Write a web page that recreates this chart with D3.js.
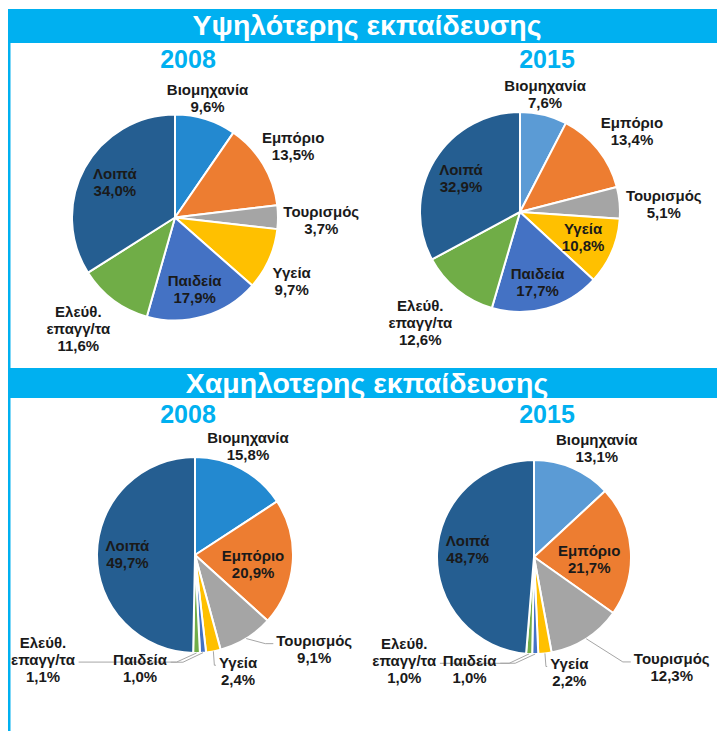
<!DOCTYPE html>
<html>
<head>
<meta charset="utf-8">
<script src="https://cdn.jsdelivr.net/npm/d3@7"></script>
<style>
  body { margin: 0; background: #fff; }
  svg { display: block; font-family: "Liberation Sans", Arial, sans-serif; }
</style>
</head>
<body>
<svg id="chart"></svg>
<script>
// data
const categories = ["Βιομηχανία", "Εμπόριο", "Τουρισμός", "Υγεία", "Παιδεία", "Ελεύθ. επαγγ/τα", "Λοιπά"];
const high2008 = [9.6, 13.5, 3.7, 9.7, 17.9, 11.6, 34.0];
const high2015 = [7.6, 13.4, 5.1, 10.8, 17.7, 12.6, 32.9];
const low2008 = [15.8, 20.9, 9.1, 2.4, 1.0, 1.1, 49.7];
const low2015 = [13.1, 21.7, 12.3, 2.2, 1.0, 1.0, 48.7];
const sectionTitles = ["Υψηλότερης εκπαίδευσης", "Χαμηλοτερης εκπαίδευσης"];
const years = ["2008", "2015"];

const colors2008 = ["#2389d0", "#ed7d31", "#a5a5a5", "#ffc000", "#4472c4", "#70ad47", "#255e91"];
const colors2015 = ["#5b9bd5", "#ed7d31", "#a5a5a5", "#ffc000", "#4472c4", "#70ad47", "#255e91"];
const blue = "#00b0f0";

let w = 717;
let h = 731;

// label placement: [angle shift in degrees from slice middle, distance as share of radius]
const charts = [
    {vals: high2008, col: colors2008, cx: 175, cy: 217.5, r: 103, yx: 188, yy: 68,
     place: [[-2, 1.20], [0, 1.34], [1, 1.42], [4.6, 1.29], [1, 0.72], [4.3, 1.43], [2, 0.68]]},
    {vals: high2015, col: colors2015, cx: 520, cy: 212, r: 100, yx: 547, yy: 68,
     place: [[-1.7, 1.21], [2.8, 1.38], [2.2, 1.44], [-1.4, 0.68], [1.3, 0.72], [3, 1.49], [-1, 0.68]]},
    {vals: low2008, col: colors2008, cx: 195, cy: 555, r: 98, yx: 188, yy: 423,
     place: [[-2.6, 1.24], [4.5, 0.60], [-20.2, 1.55], [-9.6, 1.26], [30.7, 1.28], [56.5, 1.88], [0.5, 0.69]],
     leaders: [2, 3, 4, 5]},
    {vals: low2015, col: colors2015, cx: 534, cy: 557, r: 97, yx: 547, yy: 423,
     place: [[6.3, 1.30], [5.8, 0.57], [-18.7, 1.82], [-10.6, 1.24], [30.7, 1.33], [48.6, 1.71], [4.7, 0.69]],
     leaders: [2, 3, 4, 5]}
];

const fmt = d3.formatLocale({decimal: ",", thousands: ".", grouping: [3], currency: ["", "€"]}).format(".1f");

const svg = d3.select("#chart")
    .attr("width", w)
    .attr("height", h);

// frame + section banners
svg.append("rect")
    .attr("x", 8).attr("y", 9)
    .attr("width", 2.5).attr("height", h - 9)
    .attr("fill", blue);

const banners = [{y: 9, hh: 34, base: 35}, {y: 368, hh: 30, base: 393}];
banners.forEach((b, i) => {
    svg.append("rect")
        .attr("x", 8).attr("y", b.y)
        .attr("width", w - 8).attr("height", b.hh)
        .attr("fill", blue);
    svg.append("text")
        .attr("x", 367).attr("y", b.base)
        .attr("text-anchor", "middle")
        .attr("fill", "#fff")
        .attr("font-size", 28.5)
        .attr("font-weight", "bold")
        .text(sectionTitles[i]);
});

const pie = d3.pie().sort(null).value(d => d);

charts.forEach((c, ci) => {
    svg.append("text")
        .attr("x", c.yx).attr("y", c.yy)
        .attr("text-anchor", "middle")
        .attr("fill", blue)
        .attr("font-size", 25)
        .attr("font-weight", "bold")
        .text(years[ci % 2]);

    const g = svg.append("g").attr("transform", `translate(${c.cx},${c.cy})`);
    const arc = d3.arc().innerRadius(0).outerRadius(c.r);
    const arcs = pie(c.vals);

    g.append("g")
        .selectAll("path")
        .data(arcs)
        .enter()
        .append("path")
            .attr("d", arc)
            .attr("fill", (d, i) => c.col[i])
            .attr("stroke", "#fff")
            .attr("stroke-width", 2)
            .attr("stroke-linejoin", "round");

    const leaderG = g.append("g");
    const labelG = g.append("g");

    arcs.forEach((d, i) => {
        const mid = (d.startAngle + d.endAngle) / 2;
        const a = mid + c.place[i][0] * Math.PI / 180;
        const rr = c.place[i][1] * c.r;
        const x = rr * Math.sin(a), y = -rr * Math.cos(a);
        const lines = categories[i].split(" ").concat(fmt(d.data) + "%");
        const t = labelG.append("text")
            .attr("text-anchor", "middle")
            .attr("font-size", 15)
            .attr("font-weight", "bold")
            .attr("fill", "#1a1a1a");
        lines.forEach((s, k) => {
            t.append("tspan")
                .attr("x", x)
                .attr("y", y + (k - (lines.length - 1) / 2) * 17 + 5.5)
                .text(s);
        });

        if (c.leaders && c.leaders.includes(i)) {
            const bb = t.node().getBBox();
            const ly = y + (lines.length - 2 - (lines.length - 1) / 2) * 17 + 3;
            const p0 = [c.r * Math.sin(mid), -c.r * Math.cos(mid)];
            const right = x > p0[0];
            const ex = right ? bb.x - 3 : bb.x + bb.width + 3;
            const elbow = right ? [Math.max(p0[0] + 1, ex - 8), ly] : [p0[0] - 20, ly];
            leaderG.append("path")
                .attr("d", d3.line()([p0, elbow, [ex, ly]]))
                .attr("fill", "none")
                .attr("stroke", "#a6a6a6")
                .attr("stroke-width", 1);
        }
    });
});
</script>
</body>
</html>
